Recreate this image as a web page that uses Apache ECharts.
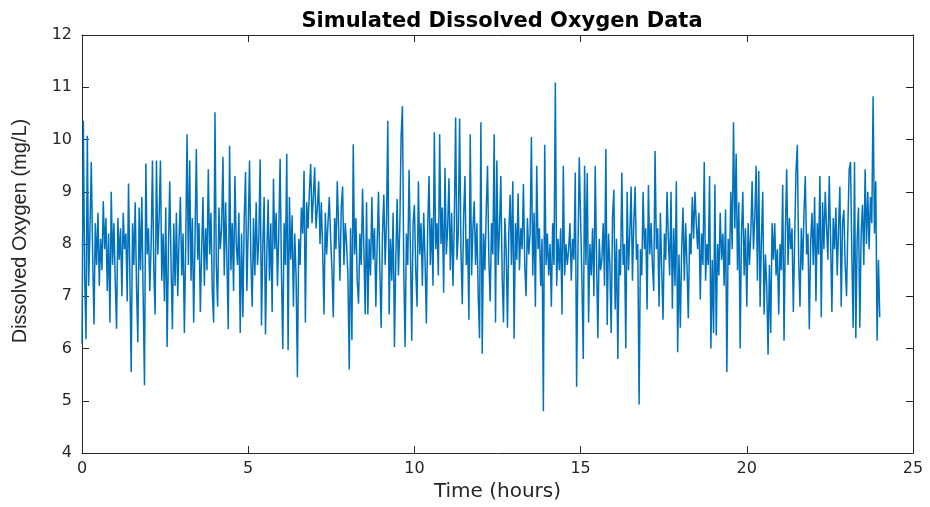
<!DOCTYPE html>
<html>
<head>
<meta charset="utf-8">
<script src="https://cdn.jsdelivr.net/npm/echarts@6/dist/echarts.min.js"></script>
<style>
html,body{margin:0;padding:0;background:#fff;}
#chart{width:930px;height:507px;}
</style>
</head>
<body>
<div id="chart"></div>
<script>
// Sampling interval of the series, in hours
const stepHours = 0.04;
// Dissolved oxygen readings (mg/L), one row per hour
const oxygen = [
6.09,10.36,7.4,6.18,10.07,7.2,8.3,9.57,7.8,6.46,8.4,7.6,8.6,7.2,8.1,7.5,8.82,7.9,8.5,7.1,8.2,6.5,9.0,7.6,8.4,
7.3,6.38,8.5,7.7,8.3,7.0,8.6,7.9,8.2,6.9,9.16,7.4,5.55,8.4,7.6,8.8,7.2,6.12,8.7,7.5,8.9,7.0,5.3,9.54,7.8,
8.3,7.1,8.0,9.6,7.5,6.65,9.6,7.8,8.5,9.6,7.3,8.2,6.9,8.7,6.03,7.9,9.2,7.6,6.37,8.4,7.2,8.6,7.0,8.1,8.9,
7.4,8.2,6.3,8.0,10.1,7.6,9.6,7.3,8.5,6.5,8.1,9.82,7.7,8.4,6.7,7.9,8.9,7.2,8.3,7.5,9.43,7.8,8.6,7.1,6.5,
10.52,7.6,6.8,8.7,7.9,8.3,9.67,7.4,8.8,7.7,6.37,9.88,7.5,8.4,7.1,9.3,8.0,7.6,8.6,6.3,8.2,6.6,8.5,9.38,7.1,
8.3,9.6,7.7,6.8,8.5,7.4,8.8,7.6,8.1,9.62,6.44,8.0,8.9,6.27,7.8,8.85,7.3,8.4,6.7,9.25,7.9,8.6,7.2,8.2,9.63,
7.5,5.99,8.4,7.6,9.73,5.97,8.9,7.7,8.55,6.8,8.2,7.4,5.45,8.1,7.6,8.7,8.2,9.4,6.5,8.8,8.3,9.0,9.53,8.4,8.9,
9.47,8.3,8.7,9.2,8.0,8.8,7.9,6.65,8.6,7.8,8.4,8.9,8.1,7.5,6.6,8.5,7.9,9.2,8.3,7.3,8.7,9.1,7.6,8.4,8.0,
7.4,5.6,8.3,6.16,9.91,7.8,8.5,7.3,6.86,8.2,7.6,9.06,7.9,6.65,8.8,6.65,8.1,7.4,8.9,7.7,8.3,6.8,8.0,9.0,7.5,
6.4,8.2,8.95,7.6,8.4,10.36,6.65,8.1,7.3,8.6,6.03,7.7,8.86,7.4,8.3,10.05,10.64,7.5,6.03,8.2,7.6,9.42,7.9,6.15,8.4,
8.75,7.5,6.8,9.2,7.8,8.4,7.2,8.6,7.7,6.48,8.3,9.3,7.6,8.5,7.2,10.14,7.9,8.4,7.4,10.1,8.0,8.7,7.07,9.46,7.8,
8.3,9.26,7.5,8.6,7.2,8.4,10.42,7.7,8.2,10.4,7.9,6.85,8.5,9.3,7.6,8.1,6.55,10.1,7.4,8.3,8.82,7.6,8.4,7.0,6.2,
10.33,5.9,8.2,7.5,8.6,9.5,7.7,6.9,8.4,7.8,10.1,6.5,9.6,7.6,8.3,9.3,7.4,6.5,8.5,7.9,6.4,8.2,8.95,7.6,9.2,
6.19,8.4,7.7,8.97,7.5,8.3,7.9,9.15,7.6,7.0,8.5,7.8,8.2,10.05,7.4,8.6,6.8,9.5,7.9,8.3,7.2,8.1,4.8,9.9,7.6,
8.2,7.4,8.0,6.8,8.4,7.6,11.09,7.2,8.1,7.5,8.3,6.65,9.5,7.4,8.0,7.6,7.9,8.4,7.3,8.1,7.7,9.37,5.27,7.8,9.66,
9.66,7.3,5.8,9.5,7.6,9.36,6.5,8.0,7.4,8.3,7.0,9.5,7.7,6.2,8.1,7.5,7.7,8.4,7.2,9.82,6.45,8.2,7.6,6.3,8.5,
9.04,6.75,8.1,5.8,7.9,7.4,9.37,7.6,8.0,6.0,9.0,7.5,8.2,9.1,7.3,8.4,9.1,7.7,8.0,4.93,7.9,7.4,9.0,7.9,8.3,
6.75,9.13,7.8,8.4,7.6,7.1,9.78,7.9,8.3,6.8,8.6,7.5,6.55,8.2,7.7,9.0,8.1,7.4,9.0,6.76,8.3,7.2,9.2,5.93,7.8,
6.4,7.9,8.7,7.3,8.4,7.6,6.58,8.2,7.8,8.9,8.1,9.0,8.4,7.9,8.6,6.94,8.2,7.6,9.57,7.3,8.0,7.6,9.3,6.0,7.7,
6.3,9.14,6.25,8.0,7.4,8.6,7.7,8.2,7.2,8.66,5.55,8.1,7.6,9.0,7.9,10.33,8.3,9.73,7.5,8.8,6.0,8.2,9.0,7.4,8.3,
6.8,8.4,7.6,8.2,9.2,7.9,8.5,9.5,7.3,9.4,6.8,8.1,9.0,6.65,7.8,7.2,5.88,7.6,6.3,8.4,7.7,8.4,7.4,7.9,6.65,
8.0,7.5,9.13,6.15,8.2,9.43,7.6,8.5,7.9,8.3,6.7,8.1,9.4,9.9,7.7,6.8,8.3,7.5,8.6,9.3,7.8,8.2,6.37,8.0,8.6,
7.6,8.9,6.9,8.4,7.8,9.3,6.6,8.8,7.9,9.0,8.3,7.7,9.3,8.1,6.7,8.5,7.9,8.7,7.4,8.3,9.1,6.8,8.4,8.65,7.6,
7.0,8.3,9.43,9.57,7.8,6.4,9.57,6.2,8.1,8.7,6.4,8.2,8.75,7.6,9.43,8.0,9.0,7.9,8.9,8.4,10.83,8.2,9.2,6.15,7.7,6.6
];
const xTicks = [0, 5, 10, 15, 20, 25];
const yTicks = [4, 5, 6, 7, 8, 9, 10, 11, 12];

const seriesData = oxygen.map((v, i) => [+(i * stepHours).toFixed(2), v]);
const axisColor = '#262626';
const wideFont = 'DejaVu Sans, Liberation Sans, sans-serif';
const font = 'Liberation Sans, Arial, sans-serif';

const chart = echarts.init(document.getElementById('chart'), null, {renderer: 'canvas'});
chart.setOption({
  animation: false,
  backgroundColor: '#ffffff',
  title: {
    text: 'Simulated Dissolved Oxygen Data',
    left: 497, top: 6, textAlign: 'center',
    textStyle: {fontFamily: wideFont, fontSize: 21, fontWeight: 'bold', color: '#000'}
  },
  grid: {left: 82, right: 17, top: 35, bottom: 50, containLabel: false},
  xAxis: [{
    type: 'value', min: xTicks[0], max: xTicks[xTicks.length - 1], interval: 5,
    name: 'Time (hours)', nameLocation: 'middle', nameGap: 28,
    nameTextStyle: {fontFamily: wideFont, fontSize: 20, color: axisColor},
    axisLine: {show: true, onZero: false, lineStyle: {color: axisColor, width: 1}},
    axisTick: {show: true, inside: true, length: 7, lineStyle: {color: axisColor}},
    axisLabel: {fontFamily: wideFont, fontSize: 16, color: axisColor, margin: 8},
    splitLine: {show: false}
  }, {
    type: 'value', position: 'top', min: 0, max: 25, interval: 5,
    axisLine: {show: true, onZero: false, lineStyle: {color: axisColor, width: 1}},
    axisTick: {show: true, inside: true, length: 7, lineStyle: {color: axisColor}},
    axisLabel: {show: false}, splitLine: {show: false}
  }],
  yAxis: [{
    type: 'value', min: yTicks[0], max: yTicks[yTicks.length - 1], interval: 1,
    name: 'Dissolved Oxygen (mg/L)', nameLocation: 'middle', nameGap: 52, nameRotate: 90,
    nameTextStyle: {fontFamily: font, fontSize: 20, color: axisColor, padding: [0, 0, 0, 26]},
    axisLine: {show: true, onZero: false, lineStyle: {color: axisColor, width: 1}},
    axisTick: {show: true, inside: true, length: 7, lineStyle: {color: axisColor}},
    axisLabel: {fontFamily: wideFont, fontSize: 16, color: axisColor, margin: 10},
    splitLine: {show: false}
  }, {
    type: 'value', position: 'right', min: 4, max: 12, interval: 1,
    axisLine: {show: true, onZero: false, lineStyle: {color: axisColor, width: 1}},
    axisTick: {show: true, inside: true, length: 7, lineStyle: {color: axisColor}},
    axisLabel: {show: false}, splitLine: {show: false}
  }],
  series: [{
    type: 'line',
    data: seriesData,
    xAxisIndex: 0, yAxisIndex: 0,
    showSymbol: false, symbol: 'none',
    lineStyle: {color: '#0072BD', width: 1.5},
    itemStyle: {color: '#0072BD'}
  }]
});
</script>
</body>
</html>
